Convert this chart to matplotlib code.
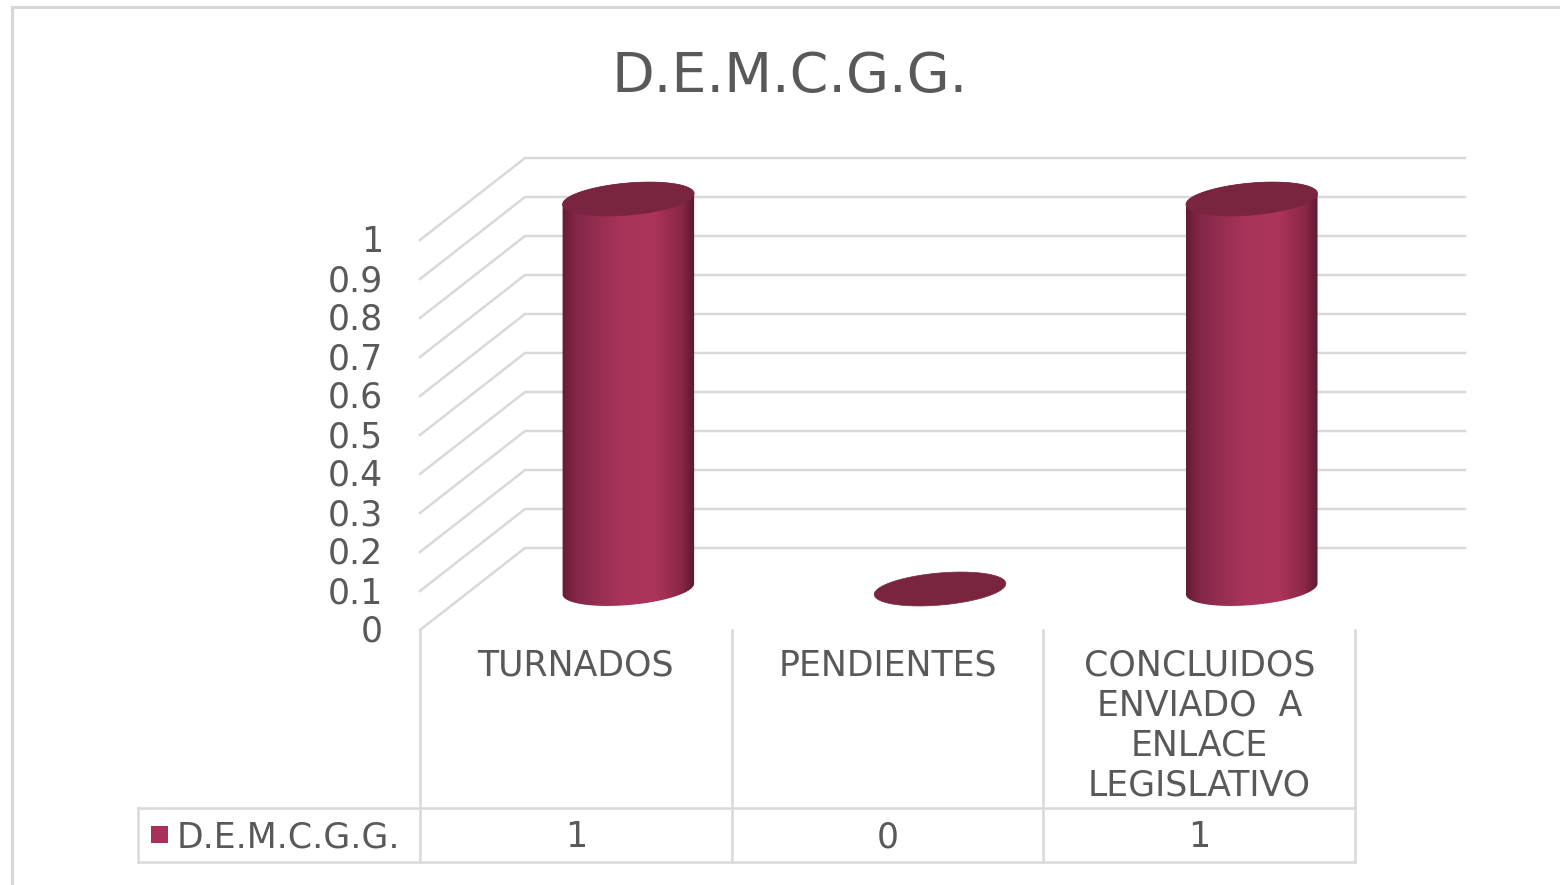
import numpy as np
import matplotlib
matplotlib.use('agg')
import matplotlib.pyplot as plt
from matplotlib.patches import Polygon, Rectangle
from matplotlib.colors import LinearSegmentedColormap

# Data
categories = ['TURNADOS', 'PENDIENTES', 'CONCLUIDOS\nENVIADO  A\nENLACE\nLEGISLATIVO']
values = [1, 0, 1]
series_name = 'D.E.M.C.G.G.'
y_ticks = [0, 0.1, 0.2, 0.3, 0.4, 0.5, 0.6, 0.7, 0.8, 0.9, 1]
tick_labels = ['0', '0.1', '0.2', '0.3', '0.4', '0.5', '0.6', '0.7', '0.8', '0.9', '1']

plt.rcParams['font.family'] = ['DejaVu Sans']
text_color = '#595959'
grid_color = '#d9d9d9'
top_color = '#7a2540'
legend_color = '#a8305a'
body_cmap = LinearSegmentedColormap.from_list(
    'cyl', [(0, '#661a34'), (0.12, '#84284a'), (0.45, '#a8345a'),
            (0.7, '#ad3559'), (0.9, '#8a2646'), (1, '#5a192f')])
fs = 25

W, H = 1560, 885
sx, sy = 311.7, 390.0      # pixels per category / per value unit
x0_px, y0_px = 420, 630    # left edge of the plot and the zero line, in pixels

fig = plt.figure(figsize=(W / 100, H / 100), dpi=100)
ax = fig.add_axes([0, 0, 1, 1])
ax.axis('off')
xlim = (-0.5 - x0_px / sx, -0.5 + (W - x0_px) / sx)
ylim = (-(H - y0_px) / sy, y0_px / sy)

depth_x, depth_y = 105 / sx, 82 / sy
x_right = -0.5 + (1465 - x0_px) / sx

# side wall + back wall gridlines, tick labels
for t, lab in zip(y_ticks, tick_labels):
    ax.plot([-0.5, -0.5 + depth_x, x_right], [t, t + depth_y, t + depth_y],
            color=grid_color, lw=1.8, zorder=1)
    ax.text(-0.5 - 37 / sx, t - 12 / sy, lab, ha='right', va='baseline',
            fontsize=fs, color=text_color)


def ellipse_pts(cx, cy, t, a=66.0, b=16.0, th=np.radians(5)):
    px = a * np.cos(t) * np.cos(th) - b * np.sin(t) * np.sin(th)
    py = a * np.cos(t) * np.sin(th) + b * np.sin(t) * np.cos(th)
    return np.column_stack([cx + px / sx, cy + py / sy])


th = np.radians(5)
t_r = np.arctan2(-16.0 * np.sin(th), 66.0 * np.cos(th))
lower = np.linspace(t_r + np.pi, t_r + 2 * np.pi, 120)
upper = np.linspace(t_r, t_r + np.pi, 120)
full = np.linspace(0, 2 * np.pi, 240)

# cylinders
for i, v in enumerate(values):
    cx = i + depth_x / 2
    base = depth_y / 2
    body = np.vstack([ellipse_pts(cx, base, lower), ellipse_pts(cx, base + v, upper)])
    body_patch = Polygon(body, closed=True, facecolor='none', edgecolor='none')
    ax.add_patch(body_patch)
    if v > 0:
        grad = np.linspace(0, 1, 256).reshape(1, -1)
        im = ax.imshow(grad, cmap=body_cmap, aspect='auto', interpolation='bilinear',
                       extent=[cx - 67 / sx, cx + 67 / sx, base - 20 / sy, base + v + 20 / sy],
                       zorder=3)
        im.set_clip_path(body_patch)
    ax.add_patch(Polygon(ellipse_pts(cx, base + v, full), closed=True,
                         facecolor=top_color, edgecolor=top_color, lw=0.5, zorder=4))

# data table
row_y = -(808 - y0_px) / sy
bot_y = -(862 - y0_px) / sy
leg_left = -0.5 - (x0_px - 138) / sx
for k in range(len(categories) + 1):
    ax.plot([-0.5 + k, -0.5 + k], [0, bot_y], color=grid_color, lw=1.8, zorder=1)
for yy in [row_y, bot_y]:
    ax.plot([leg_left, 2.5], [yy, yy], color=grid_color, lw=1.8, zorder=1)
ax.plot([leg_left, leg_left], [row_y, bot_y], color=grid_color, lw=1.8, zorder=1)

for i, (cat, v) in enumerate(zip(categories, values)):
    ax.text(i, -19 / sy, cat, ha='center', va='top', fontsize=fs,
            color=text_color, linespacing=1.22)
    ax.text(i, -(847 - y0_px) / sy, str(v), ha='center', va='baseline',
            fontsize=fs, color=text_color)

ax.add_patch(Rectangle((leg_left + 13 / sx, -(843 - y0_px) / sy), 17 / sx, 17 / sy,
                       facecolor=legend_color, edgecolor='none'))
ax.text(leg_left + 39 / sx, -(847 - y0_px) / sy, series_name, ha='left',
        va='baseline', fontsize=fs, color=text_color)

ax.set_xlim(xlim)
ax.set_ylim(ylim)

# title and chart frame
fig.text(790 / W, 1 - 92 / H, series_name, ha='center', va='baseline',
         fontsize=40, color=text_color)
fig.patches.append(Rectangle((12 / W, -0.5), 2, 1.5 - 7 / H, transform=fig.transFigure,
                             fill=False, edgecolor='#d6d6d6', lw=2.2))

fig.savefig('out.png', dpi=100)
